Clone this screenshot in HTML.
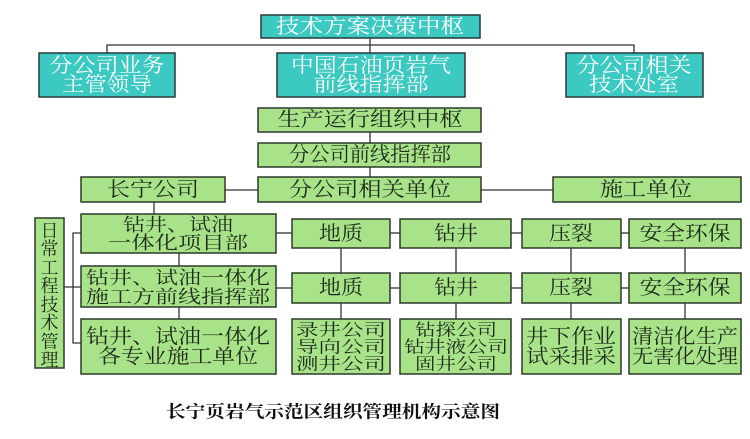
<!DOCTYPE html>
<html><head><meta charset="utf-8"><style>
html,body{margin:0;padding:0;background:#fff;width:750px;height:439px;overflow:hidden}
svg{display:block}
text{font-family:"Liberation Serif","Noto Serif CJK SC",serif;font-size:20px;dominant-baseline:central;text-anchor:middle}
.t{fill:#3cc9c1;stroke:#2a3a3a;stroke-width:1.5}
.g{fill:#a8e38a;stroke:#2e3a2a;stroke-width:1.5}
.w{fill:#fff}
.d{fill:#1e2a1a}
.s{font-size:16.5px}
line,polyline{stroke:#333;stroke-width:1.3;fill:none}
</style></head><body>
<svg width="750" height="439" viewBox="0 0 750 439" xmlns="http://www.w3.org/2000/svg">
<line x1="370" y1="38" x2="370" y2="53"/>
<polyline points="107,53 107,45 634,45 634,53"/>
<line x1="370" y1="132" x2="370" y2="143"/>
<line x1="370" y1="167" x2="370" y2="177"/>
<line x1="225" y1="190" x2="258" y2="190"/>
<line x1="481" y1="190" x2="553" y2="190"/>
<line x1="154" y1="202" x2="154" y2="214"/>
<polyline points="81,233 73,233 73,343 81,343"/>
<line x1="64" y1="287" x2="81" y2="287"/>
<line x1="179" y1="253" x2="179" y2="266"/>
<line x1="179" y1="307" x2="179" y2="319"/>
<line x1="276" y1="233" x2="292" y2="233"/>
<line x1="390" y1="233" x2="400" y2="233"/>
<line x1="511" y1="233" x2="522" y2="233"/>
<line x1="621" y1="233" x2="629" y2="233"/>
<line x1="276" y1="288" x2="292" y2="288"/>
<line x1="390" y1="288" x2="400" y2="288"/>
<line x1="511" y1="288" x2="522" y2="288"/>
<line x1="621" y1="288" x2="629" y2="288"/>
<line x1="341" y1="248" x2="341" y2="319"/>
<line x1="456" y1="248" x2="456" y2="319"/>
<line x1="571" y1="248" x2="571" y2="319"/>
<line x1="685" y1="248" x2="685" y2="319"/>

<rect class="t" x="261" y="15" width="219" height="23"/>
<text class="w" x="370" y="27" textLength="188" lengthAdjust="spacingAndGlyphs">技术方案决策中枢</text>
<rect class="t" x="39" y="53" width="136" height="44"/>
<text class="w" x="107" y="66" textLength="115" lengthAdjust="spacingAndGlyphs">分公司业务</text>
<text class="w" x="107" y="85" textLength="90" lengthAdjust="spacingAndGlyphs">主管领导</text>
<rect class="t" x="277" y="53" width="188" height="44"/>
<text class="w" x="371" y="66" textLength="160" lengthAdjust="spacingAndGlyphs">中国石油页岩气</text>
<text class="w" x="371" y="85" textLength="115" lengthAdjust="spacingAndGlyphs">前线指挥部</text>
<rect class="t" x="566" y="53" width="137" height="44"/>
<text class="w" x="634" y="66" textLength="115" lengthAdjust="spacingAndGlyphs">分公司相关</text>
<text class="w" x="634" y="85" textLength="90" lengthAdjust="spacingAndGlyphs">技术处室</text>

<rect class="g" x="258" y="108" width="223" height="24"/>
<text class="d" x="370" y="120" textLength="185" lengthAdjust="spacingAndGlyphs">生产运行组织中枢</text>
<rect class="g" x="258" y="143" width="223" height="24"/>
<text class="d" x="370" y="155" textLength="162" lengthAdjust="spacingAndGlyphs">分公司前线指挥部</text>
<rect class="g" x="81" y="177" width="144" height="25"/>
<text class="d" x="153" y="190" textLength="92" lengthAdjust="spacingAndGlyphs">长宁公司</text>
<rect class="g" x="258" y="177" width="223" height="25"/>
<text class="d" x="370" y="190" textLength="162" lengthAdjust="spacingAndGlyphs">分公司相关单位</text>
<rect class="g" x="553" y="177" width="188" height="25"/>
<text class="d" x="646" y="190" textLength="92" lengthAdjust="spacingAndGlyphs">施工单位</text>

<rect class="g" x="35" y="218" width="29" height="150"/>
<text class="d s" x="49.5" y="231" style="font-size:18px">日</text>
<text class="d" x="49.5" y="249" style="font-size:18px">常</text>
<text class="d" x="49.5" y="268" style="font-size:18px">工</text>
<text class="d" x="49.5" y="286" style="font-size:18px">程</text>
<text class="d" x="49.5" y="305" style="font-size:18px">技</text>
<text class="d" x="49.5" y="323" style="font-size:18px">术</text>
<text class="d" x="49.5" y="342" style="font-size:18px">管</text>
<text class="d" x="49.5" y="360" style="font-size:18px">理</text>

<rect class="g" x="81" y="214" width="195" height="39"/>
<text class="d" x="178" y="225" textLength="110" lengthAdjust="spacingAndGlyphs" style="font-size:18px">钻井、试油</text>
<text class="d" x="178" y="243" textLength="140" lengthAdjust="spacingAndGlyphs" style="font-size:18px">一体化项目部</text>
<rect class="g" x="81" y="266" width="195" height="41"/>
<text class="d" x="178" y="278" textLength="184" lengthAdjust="spacingAndGlyphs" style="font-size:18px">钻井、试油一体化</text>
<text class="d" x="178" y="297" textLength="184" lengthAdjust="spacingAndGlyphs" style="font-size:18px">施工方前线指挥部</text>
<rect class="g" x="81" y="319" width="195" height="55"/>
<text class="d" x="178" y="337" textLength="184" lengthAdjust="spacingAndGlyphs">钻井、试油一体化</text>
<text class="d" x="178" y="357" textLength="160" lengthAdjust="spacingAndGlyphs">各专业施工单位</text>

<rect class="g" x="292" y="219" width="98" height="29"/>
<text class="d" x="341" y="234" textLength="44" lengthAdjust="spacingAndGlyphs">地质</text>
<rect class="g" x="400" y="219" width="111" height="29"/>
<text class="d" x="456" y="234" textLength="44" lengthAdjust="spacingAndGlyphs">钻井</text>
<rect class="g" x="522" y="219" width="99" height="29"/>
<text class="d" x="571" y="234" textLength="44" lengthAdjust="spacingAndGlyphs">压裂</text>
<rect class="g" x="629" y="219" width="112" height="29"/>
<text class="d" x="685" y="234" textLength="91" lengthAdjust="spacingAndGlyphs">安全环保</text>

<rect class="g" x="292" y="273" width="98" height="30"/>
<text class="d" x="341" y="288" textLength="44" lengthAdjust="spacingAndGlyphs">地质</text>
<rect class="g" x="400" y="273" width="111" height="30"/>
<text class="d" x="456" y="288" textLength="44" lengthAdjust="spacingAndGlyphs">钻井</text>
<rect class="g" x="522" y="273" width="99" height="30"/>
<text class="d" x="571" y="288" textLength="44" lengthAdjust="spacingAndGlyphs">压裂</text>
<rect class="g" x="629" y="273" width="112" height="30"/>
<text class="d" x="685" y="288" textLength="91" lengthAdjust="spacingAndGlyphs">安全环保</text>

<rect class="g" x="292" y="319" width="98" height="55"/>
<text class="d s" x="341" y="330" textLength="90" lengthAdjust="spacingAndGlyphs">录井公司</text>
<text class="d s" x="341" y="347" textLength="90" lengthAdjust="spacingAndGlyphs">导向公司</text>
<text class="d s" x="341" y="364" textLength="90" lengthAdjust="spacingAndGlyphs">测井公司</text>
<rect class="g" x="400" y="319" width="111" height="55"/>
<text class="d s" x="456" y="330" textLength="82" lengthAdjust="spacingAndGlyphs">钻探公司</text>
<text class="d s" x="456" y="347" textLength="104" lengthAdjust="spacingAndGlyphs">钻井液公司</text>
<text class="d s" x="456" y="364" textLength="82" lengthAdjust="spacingAndGlyphs">固井公司</text>
<rect class="g" x="522" y="319" width="99" height="55"/>
<text class="d" x="571" y="337" textLength="90" lengthAdjust="spacingAndGlyphs">井下作业</text>
<text class="d" x="571" y="357" textLength="90" lengthAdjust="spacingAndGlyphs">试采排采</text>
<rect class="g" x="629" y="319" width="112" height="55"/>
<text class="d" x="685" y="337" textLength="106" lengthAdjust="spacingAndGlyphs">清洁化生产</text>
<text class="d" x="685" y="357" textLength="106" lengthAdjust="spacingAndGlyphs">无害化处理</text>

<text x="333" y="412" style="font-size:17px;font-weight:bold;fill:#111" textLength="334" lengthAdjust="spacingAndGlyphs">长宁页岩气示范区组织管理机构示意图</text>
</svg>
</body></html>
